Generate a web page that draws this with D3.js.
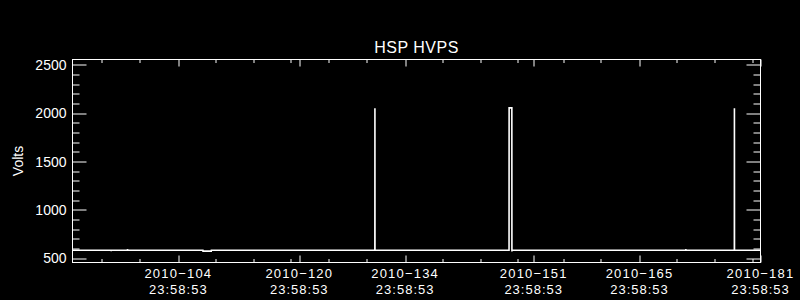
<!DOCTYPE html>
<html>
<head>
<meta charset="utf-8">
<script src="https://cdn.jsdelivr.net/npm/d3@7"></script>
<style>
  body { margin: 0; background: #000; }
  svg { display: block; background: #000; }
  text { fill: #fff; font-family: "Liberation Sans", Arial, sans-serif; }
</style>
</head>
<body>
<div id="chart"></div>
<script>
// HSP high voltage power supply, day-of-year 2010 (fractional) vs volts
var sampleDoy = [90.9992, 96.11, 96.12, 96.13, 98.27, 98.28, 98.29, 108.25, 108.26, 109.35, 109.36,
                 130.99, 131.00, 131.01, 148.74, 148.75, 149.11, 149.12, 149.13,
                 172.11, 172.12, 172.13, 178.54, 178.55, 178.56, 181.9992];
var sampleVolts = [582, 582, 572, 582, 582, 596, 582, 582, 574, 574, 582,
                   582, 2050, 582, 582, 2055, 2055, 570, 582,
                   582, 596, 582, 582, 2050, 582, 582];

// axis setup
var timeStart = "2010-03-31T23:58:53Z";
var timeEnd = "2010-06-30T23:58:53Z";
var majorTimes = ["2010-04-14T23:58:53Z", "2010-04-30T23:58:53Z", "2010-05-14T23:58:53Z",
                  "2010-05-31T23:58:53Z", "2010-06-14T23:58:53Z", "2010-06-30T23:58:53Z"];
var minorDayOffsets = [3.9, 8.9, 18.9, 23.9, 28.9, 33.9, 38.9, 48.9, 53.9, 58.9, 64.9, 69.9, 79.9, 84.9, 89.9];
var yDomain = [456, 2555];
var yMajor = [500, 1000, 1500, 2000, 2500];

var W = 800, H = 300;
var margin = {left: 72.5, right: 39.5, top: 59.5, bottom: 37.5};
var width = W - margin.left - margin.right;
var height = H - margin.top - margin.bottom;

var svg = d3.select("#chart")
    .append("svg")
        .attr("width", W)
        .attr("height", H)
    .append("g")
        .attr("transform", "translate(" + margin.left + "," + margin.top + ")");

var t0 = new Date(timeStart);
function doyToDate(d) { return new Date(Date.UTC(2010, 0, 1) + (d - 1) * 864e5); }

var x = d3.scaleUtc()
    .domain([t0, new Date(timeEnd)])
    .range([0, width]);

var y = d3.scaleLinear()
    .domain(yDomain)
    .range([height, 0]);

var majors = majorTimes.map(function(s) { return new Date(s); });
var minors = minorDayOffsets.map(function(o) { return new Date(+t0 + o * 864e5); });
var yMinor = d3.range(500, 2501, 100).filter(function(v) { return yMajor.indexOf(v) < 0; });

// frame
svg.append("rect")
    .attr("width", width)
    .attr("height", height)
    .attr("fill", "none")
    .attr("stroke", "#fff")
    .attr("stroke-width", 1);

// x ticks (bottom and top, pointing inward)
function xTicks(vals, len) {
    vals.forEach(function(d) {
        var px = Math.round(x(d)) + 0.5;
        svg.append("line").attr("x1", px).attr("x2", px).attr("y1", height).attr("y2", height - len)
            .attr("stroke", "#fff");
        svg.append("line").attr("x1", px).attr("x2", px).attr("y1", 0).attr("y2", len)
            .attr("stroke", "#fff");
    });
}
xTicks(majors, 7);
xTicks(minors, 3.5);

// y ticks (left and right, pointing inward)
function yTicks(vals, len) {
    vals.forEach(function(v) {
        var py = Math.round(y(v)) + 0.5;
        svg.append("line").attr("x1", 0).attr("x2", len).attr("y1", py).attr("y2", py)
            .attr("stroke", "#fff");
        svg.append("line").attr("x1", width).attr("x2", width - len).attr("y1", py).attr("y2", py)
            .attr("stroke", "#fff");
    });
}
yTicks(yMajor, 14);
yTicks(yMinor, 7);

// y labels
svg.selectAll(".ylab")
    .data(yMajor)
    .enter()
    .append("text")
    .attr("class", "ylab")
    .attr("x", -6)
    .attr("y", function(d) { return y(d) + 5; })
    .attr("text-anchor", "end")
    .style("font-size", "14px")
    .text(function(d) { return d; });

// x labels, date line then time line
var fmtDay = d3.utcFormat("%Y\u2212%j");
var fmtTime = d3.utcFormat("%H:%M:%S");
svg.selectAll(".xday")
    .data(majors)
    .enter()
    .append("text")
    .attr("class", "xday")
    .attr("x", function(d) { return x(d); })
    .attr("y", height + 15.5)
    .attr("text-anchor", "middle")
    .style("font-size", "13px")
    .style("letter-spacing", "1.2px")
    .text(function(d) { return fmtDay(d); });
svg.selectAll(".xtime")
    .data(majors)
    .enter()
    .append("text")
    .attr("class", "xtime")
    .attr("x", function(d) { return x(d); })
    .attr("y", height + 31)
    .attr("text-anchor", "middle")
    .style("font-size", "13px")
    .style("letter-spacing", "1px")
    .text(function(d) { return fmtTime(d); });

// data line
var line = d3.line()
    .x(function(d) { return x(doyToDate(d[0])); })
    .y(function(d) { return y(d[1]); });

svg.append("path")
    .datum(sampleDoy.map(function(d, i) { return [d, sampleVolts[i]]; }))
    .attr("d", line)
    .attr("fill", "none")
    .attr("stroke", "#fff")
    .attr("stroke-width", 1.6);

// title and y axis label
svg.append("text")
    .attr("x", width / 2)
    .attr("y", -6.5)
    .attr("text-anchor", "middle")
    .style("font-size", "16px")
    .style("letter-spacing", "0.5px")
    .text("HSP HVPS");

svg.append("text")
    .attr("transform", "translate(" + (23 - margin.left) + "," + (height / 2) + ") rotate(-90)")
    .attr("text-anchor", "middle")
    .style("font-size", "14px")
    .text("Volts");
</script>
</body>
</html>
